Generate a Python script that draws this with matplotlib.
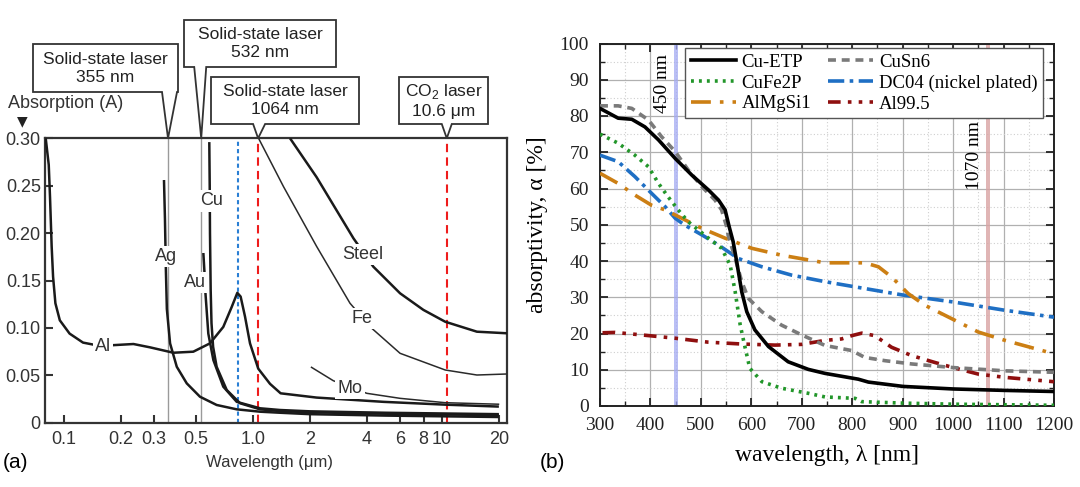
import matplotlib
matplotlib.use("Agg")
import matplotlib.pyplot as plt
from matplotlib.patches import Polygon
from matplotlib.ticker import MultipleLocator, NullLocator

plt.rcParams['font.family'] = ['Liberation Sans', 'DejaVu Sans']
plt.rcParams['mathtext.fontset'] = 'custom'
plt.rcParams['mathtext.rm'] = 'Liberation Sans'

# ---- (a) absorption vs wavelength (um), log axis ----
al_wl = [0.080, 0.083, 0.0843, 0.086, 0.0875, 0.090, 0.095, 0.107, 0.126, 0.155, 0.19, 0.233,
         0.285, 0.379, 0.483, 0.592, 0.696, 0.771, 0.826, 0.86, 0.907, 0.964, 1.066, 1.23,
         1.4, 2.17, 4.9, 10.5, 20.0]
al_a = [0.300, 0.272, 0.238, 0.186, 0.154, 0.126, 0.108, 0.094, 0.0845, 0.081, 0.082, 0.083,
        0.0795, 0.0738, 0.0749, 0.0837, 0.101, 0.122, 0.137, 0.133, 0.112, 0.0837, 0.057, 0.041,
        0.031, 0.0265, 0.022, 0.019, 0.017]
ag_wl = [0.338, 0.342, 0.346, 0.350, 0.364, 0.395, 0.446, 0.524, 0.642, 0.82, 1.09, 1.39, 2.0, 5.0, 20.0]
ag_a = [0.256, 0.215, 0.16, 0.12, 0.0837, 0.059, 0.0415, 0.0274, 0.0187, 0.0141, 0.0116, 0.0105,
        0.009, 0.0075, 0.006]
cu_wl = [0.587, 0.590, 0.592, 0.597, 0.603, 0.615, 0.642, 0.726, 0.854, 1.09, 1.39, 2.0, 5.0, 20.0]
cu_a = [0.296, 0.25, 0.20, 0.14, 0.105, 0.08, 0.059, 0.0345, 0.0205, 0.0141, 0.0123, 0.011, 0.0095, 0.008]
au_wl = [0.546, 0.553, 0.557, 0.58, 0.617, 0.696, 0.82, 1.09, 1.39, 2.0, 5.0, 20.0]
au_a = [0.179, 0.16, 0.1435, 0.094, 0.066, 0.038, 0.022, 0.0152, 0.0134, 0.012, 0.0105, 0.009]
steel_wl = [1.57, 2.17, 3.40, 4.33, 6.0, 7.97, 10.4, 15.3, 22.2]
steel_a = [0.300, 0.259, 0.1945, 0.1646, 0.1365, 0.119, 0.1065, 0.096, 0.0943]
fe_wl = [1.07, 1.45, 2.17, 3.26, 4.25, 6.0, 10.4, 15.3, 22.2]
fe_a = [0.300, 0.249, 0.186, 0.126, 0.0996, 0.0732, 0.0556, 0.0503, 0.0514]
mo_wl = [2.04, 2.66, 4.0, 6.0, 10.4, 19.9]
mo_a = [0.0584, 0.0443, 0.031, 0.0257, 0.0211, 0.0195]

xt_a = [0.1, 0.2, 0.3, 0.5, 1.0, 2, 4, 6, 8, 10, 20]
xtl_a = ['0.1', '0.2', '0.3', '0.5', '1.0', '2', '4', '6', '8', '10', '20']
yt_a = [0, 0.05, 0.10, 0.15, 0.20, 0.25, 0.30]
ytl_a = ['0', '0.05', '0.10', '0.15', '0.20', '0.25', '0.30']

# ---- (b) absorptivity vs wavelength (nm) ----
cu_etp_wl = [300, 336, 363, 389, 416, 449, 482, 515, 535, 548, 556, 564, 571, 581, 591, 607, 634,
             673, 713, 746, 812, 832, 901, 1000, 1103, 1200]
cu_etp = [82.1, 79.4, 79.1, 77.0, 73.4, 68.3, 63.7, 59.6, 56.8, 54.1, 49.5, 45.3, 39.8, 31.5, 26.0,
          21.0, 16.4, 12.2, 10.1, 9.0, 7.4, 6.6, 5.4, 4.7, 4.3, 4.0]
cusn6_wl = [300, 336, 363, 396, 422, 449, 475, 502, 528, 541, 551, 554, 568, 581, 594, 621, 660, 700,
            746, 799, 825, 865, 918, 1000, 1103, 1200]
cusn6 = [82.8, 82.8, 82.1, 78.9, 74.3, 70.2, 65.1, 60.5, 56.8, 54.1, 49.5, 47.2, 40.7, 34.3, 29.7,
         26.0, 22.3, 19.6, 16.7, 15.3, 13.4, 12.5, 11.6, 10.6, 9.7, 9.3]
cufe2p_wl = [300, 336, 369, 396, 416, 435, 455, 475, 515, 541, 558, 568, 578, 588, 597, 621, 660, 713,
             746, 806, 819, 900, 1000, 1200]
cufe2p = [75.0, 72.5, 69.2, 66.0, 61.4, 57.7, 54.1, 50.8, 46.3, 43.5, 38.9, 31.5, 22.3, 15.9, 10.4,
          6.7, 4.9, 3.5, 2.5, 2.1, 1.2, 0.8, 0.5, 0.2]
dc04_wl = [300, 336, 369, 402, 429, 449, 468, 502, 535, 574, 621, 680, 746, 825, 901, 1000, 1103, 1200]
dc04 = [69.2, 67.4, 63.3, 58.7, 55.0, 51.8, 49.9, 47.2, 44.4, 40.7, 38.4, 36.1, 34.3, 32.4, 30.6,
        28.7, 26.4, 24.5]
almgsi1_wl = [300, 336, 369, 402, 429, 449, 502, 548, 601, 660, 746, 792, 825, 852, 878, 911, 944,
              997, 1050, 1103, 1200]
almgsi1 = [64.2, 61.4, 58.2, 55.4, 54.1, 52.7, 49.0, 46.3, 43.5, 41.6, 39.5, 39.5, 39.5, 38.4, 35.6,
           31.0, 27.8, 24.1, 20.4, 18.1, 14.4]
al995_wl = [305, 330, 383, 449, 515, 581, 647, 700, 746, 779, 799, 819, 845, 878, 918, 964, 1000,
            1050, 1103, 1200]
al995 = [20.2, 20.3, 19.6, 18.7, 17.6, 17.1, 16.8, 17.0, 18.1, 18.5, 19.4, 20.1, 19.4, 16.2, 13.9,
         12.0, 10.6, 8.8, 7.9, 6.7]

W, H = 1080, 487
fig = plt.figure(figsize=(W / 100, H / 100), dpi=100)

# ================= left panel =================
ax1 = fig.add_axes([45 / W, (H - 422.7) / H, 462 / W, 284.4 / H])
ax1.set_xscale('log')
ax1.set_xlim(0.0793, 22.08)
ax1.set_ylim(0, 0.30)

for lam in [0.355, 0.532]:
    ax1.axvline(lam, color='#9a9a9a', lw=1.0, zorder=1)
ax1.axvline(0.83, color='#2a7fd4', lw=1.5, ls=(0, (2, 1.5)), zorder=1)
for lam in [1.064, 10.6]:
    ax1.axvline(lam, color='#ee1c1c', lw=1.5, ls=(0, (4, 2.5)), zorder=1)

thick = dict(color='#1a1a1a', lw=1.8, zorder=3, solid_capstyle='butt')
thin = dict(color='#2a2a2a', lw=1.1, zorder=3)
ax1.plot(al_wl, al_a, **thick)
ax1.plot(ag_wl, ag_a, **thick)
ax1.plot(cu_wl, cu_a, **thick)
ax1.plot(au_wl, au_a, **thick)
ax1.plot(steel_wl, steel_a, **thick)
ax1.plot(fe_wl, fe_a, **thin)
ax1.plot(mo_wl, mo_a, **thin)

lab_box = dict(facecolor='white', edgecolor='none', pad=1.5)
for txt, lx, ly in [('Al', 0.161, 0.080), ('Ag', 0.347, 0.175), ('Cu', 0.60, 0.234),
                    ('Au', 0.493, 0.148), ('Steel', 3.82, 0.1775), ('Fe', 3.78, 0.110),
                    ('Mo', 3.26, 0.0366)]:
    ax1.text(lx, ly, txt, ha='center', va='center', fontsize=13, color='#333333',
             bbox=lab_box, zorder=4)

ax1.xaxis.set_minor_locator(NullLocator())
ax1.set_xticks(xt_a)
ax1.set_xticklabels(xtl_a)
ax1.set_yticks(yt_a)
ax1.set_yticklabels(ytl_a)
ax1.tick_params(direction='in', length=6, width=1.5, labelsize=13, colors='#333333')
ax1.tick_params(axis='x', pad=6)
ax1.tick_params(axis='y', pad=3)
for s in ax1.spines.values():
    s.set_linewidth(1.6)
    s.set_color('#333333')

fig.text(270 / W, 1 - 463 / H, 'Wavelength (\u03bcm)', ha='center', va='center', fontsize=12,
         color='#333333')
fig.text(3 / W, 1 - 462 / H, '(a)', ha='left', va='center', fontsize=15)
fig.text(8 / W, 1 - 103 / H, 'Absorption (A)', ha='left', va='center', fontsize=13, color='#333333')
fig.text(22 / W, 1 - 121 / H, '\u25bc', ha='center', va='center', fontsize=10, color='#222222',
         family=['DejaVu Sans'])

# callout boxes pointing to the laser lines
callouts = [
    ((33, 178, 44, 92), 0.355, (-6, 9), 'Solid-state laser\n355 nm'),
    ((184, 336, 20, 67), 0.532, (-7, 5), 'Solid-state laser\n532 nm'),
    ((211, 359, 77, 124), 1.064, (-5, 7), 'Solid-state laser\n1064 nm'),
    ((399, 488, 77, 124), 10.6, (-5, 5), 'CO$_\\mathrm{2}$ laser\n10.6 \u03bcm'),
]
for (x0, x1, y0, y1), lam, (dl, dr), txt in callouts:
    tx, ty = ax1.transData.transform((lam, 0.30))
    pts = [(x0, H - y0), (x1, H - y0), (x1, H - y1), (tx + dr, H - y1), (tx, ty),
           (tx + dl, H - y1), (x0, H - y1)]
    pts = [(px / W, py / H) for px, py in pts]
    fig.add_artist(Polygon(pts, closed=True, facecolor='white', edgecolor='#333333', lw=1.3,
                           transform=fig.transFigure, zorder=5))
    fig.text((x0 + x1) / 2 / W, 1 - (y0 + y1) / 2 / H, txt, ha='center', va='center',
             fontsize=12.5, linespacing=1.25, color='#222222', zorder=6)

# ================= right panel =================
serif = ['Liberation Serif', 'DejaVu Serif']
ax2 = fig.add_axes([600 / W, (H - 406) / H, 454 / W, 362.5 / H])
ax2.set_xlim(300, 1200)
ax2.set_ylim(0, 100)

ax2.axvspan(446, 454, color='#a3aaf2', alpha=0.75, lw=0, zorder=1)
ax2.axvspan(1066, 1074, color='#d9a3a3', alpha=0.8, lw=0, zorder=1)
ax2.text(423, 89, '450 nm', rotation=90, ha='center', va='center', fontsize=14, family=serif)
ax2.text(1043, 69, '1070 nm', rotation=90, ha='center', va='center', fontsize=14, family=serif)

lw = 2.6
l1, = ax2.plot(cu_etp_wl, cu_etp, color='black', lw=lw, label='Cu-ETP', zorder=6)
l2, = ax2.plot(cusn6_wl, cusn6, color='#7a7a7a', lw=lw, ls=(0, (2.2, 1.6)), label='CuSn6', zorder=5)
l3, = ax2.plot(cufe2p_wl, cufe2p, color='#22962a', lw=lw, ls=(0, (0.8, 1.4)), label='CuFe2P', zorder=5)
l4, = ax2.plot(dc04_wl, dc04, color='#1f6fc4', lw=lw, ls=(0, (4.5, 1.5, 1, 1.5)),
               label='DC04 (nickel plated)', zorder=4)
l5, = ax2.plot(almgsi1_wl, almgsi1, color='#cc7f14', lw=lw, ls=(0, (5.5, 2.5, 1, 2.5)),
               label='AlMgSi1', zorder=4)
l6, = ax2.plot(al995_wl, al995, color='#8f0f0f', lw=lw, ls=(0, (3.5, 2, 1, 2, 1, 2)),
               label='Al99.5', zorder=4)

leg = ax2.legend(handles=[l1, l3, l5, l2, l4, l6], ncol=2, loc='upper right',
                 bbox_to_anchor=(1 - 11 / 454, 1 - 4.5 / 362.5), borderaxespad=0,
                 prop={'family': serif, 'size': 13.5}, handlelength=2.4, handletextpad=0.3,
                 columnspacing=0.9, labelspacing=0.2, borderpad=0.3, fancybox=False,
                 framealpha=1, edgecolor='#555555')
leg.get_frame().set_linewidth(1.0)
leg.set_zorder(10)

ax2.xaxis.set_major_locator(MultipleLocator(100))
ax2.xaxis.set_minor_locator(MultipleLocator(50))
ax2.yaxis.set_major_locator(MultipleLocator(10))
ax2.yaxis.set_minor_locator(MultipleLocator(5))
ax2.grid(which='major', color='#b0b0b0', lw=0.9, zorder=0)
ax2.grid(which='minor', color='#cfcfcf', lw=0.8, ls=(0, (1, 2)), zorder=0)
ax2.set_axisbelow(True)
ax2.tick_params(which='both', direction='in', top=True, right=True, colors='#222222')
ax2.tick_params(which='major', length=6, width=1.3, labelsize=14, pad=8)
ax2.tick_params(which='minor', length=3.5, width=1.0)
for lab in ax2.get_xticklabels() + ax2.get_yticklabels():
    lab.set_family(serif)
for s in ax2.spines.values():
    s.set_linewidth(1.4)
    s.set_color('#222222')
ax2.set_xlabel('wavelength, \u03bb [nm]', fontsize=17, family=serif, labelpad=8)
ax2.set_ylabel('absorptivity, \u03b1 [%]', fontsize=17, family=serif, labelpad=8)

fig.text(540 / W, 1 - 462 / H, '(b)', ha='left', va='center', fontsize=15)

fig.savefig('out.png', dpi=100)
